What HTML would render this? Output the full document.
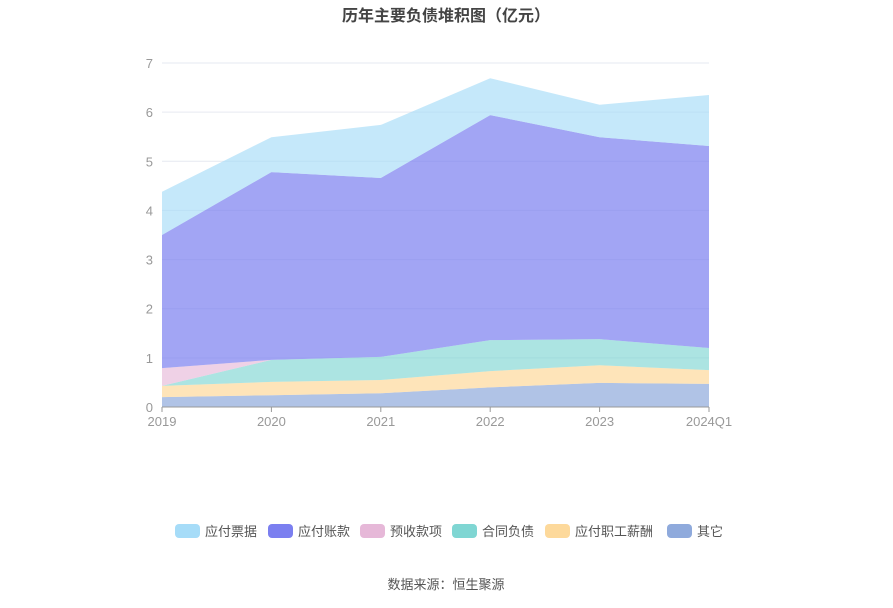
<!DOCTYPE html>
<html><head><meta charset="utf-8"><style>
body{margin:0;background:#fff;font-family:"Liberation Sans","Noto Sans CJK SC",sans-serif;}
svg text{font-family:"Liberation Sans","Noto Sans CJK SC",sans-serif;}
</style></head><body>
<svg id="c" width="893" height="603">
<text x="446" y="21" text-anchor="middle" font-size="16" font-weight="bold" fill="#444">历年主要负债堆积图（亿元）</text>
<g id="grid"></g><g id="areas"></g><g id="axes"></g><g id="legend"></g>
<text x="446" y="589" text-anchor="middle" font-size="13" fill="#555">数据来源：恒生聚源</text>
</svg>
<script>
const categories=["2019","2020","2021","2022","2023","2024Q1"];
const seriesNames=["其它","应付职工薪酬","合同负债","预收款项","应付账款","应付票据"];
const other=[0.2,0.24,0.28,0.4,0.49,0.47];
const payroll=[0.23,0.27,0.27,0.33,0.36,0.28];
const contract=[0,0.45,0.47,0.63,0.53,0.45];
const advance=[0.36,0,0,0,0,0];
const payables=[2.71,3.82,3.64,4.58,4.11,4.11];
const notes=[0.88,0.71,1.08,0.75,0.66,1.04];
const yTicks=[0,1,2,3,4,5,6,7];
const NS="http://www.w3.org/2000/svg";
const x=i=>162+i*(709-162)/(categories.length-1);
const y=v=>407-v*(407-63)/7;
function mk(t,a,p){const e=document.createElementNS(NS,t);for(const k in a)e.setAttribute(k,a[k]);p.appendChild(e);return e;}
const grid=document.getElementById('grid'),axes=document.getElementById('axes'),areas=document.getElementById('areas'),legend=document.getElementById('legend');
yTicks.forEach(t=>{
 if(t>0){const l=mk('line',{x1:162,x2:709,y1:y(t),y2:y(t),stroke:'#e6e9f0'},grid);
 
 }
 const tx=mk('text',{x:153,y:y(t)+5,'text-anchor':'end','font-size':13,fill:'#999'},axes);tx.textContent=t;
 
 
});
const al=mk('line',{x1:162,x2:709,y1:407,y2:407,stroke:'#999'},axes);


categories.forEach((c,i)=>{
 mk('line',{x1:x(i),x2:x(i),y1:407,y2:412,stroke:'#999'},axes);
 const t=mk('text',{x:x(i),y:426,'text-anchor':'middle','font-size':13,fill:'#999'},axes);t.textContent=c;
 
 
});
const data=[other,payroll,contract,advance,payables,notes];
const fills=["#8faadc","#fdd99b","#7fd6d3","#e6b8d8","#7b7ff0","#a6dcf8"];
const alpha=[0.7,0.7,0.65,0.65,0.7,0.65];
const names=["area-other","area-payroll","area-contract-liabilities","area-advance-receipts","area-accounts-payable","area-notes-payable"];
let base=categories.map(()=>0);
data.forEach((s,k)=>{
 const top=base.map((b,i)=>b+s[i]);
 let d='M'+top.map((v,i)=>x(i)+','+y(v)).join(' L');
 for(let i=base.length-1;i>=0;i--)d+=' L'+x(i)+','+y(base[i]);
 const p=mk('path',{d:d+'Z',fill:fills[k],'fill-opacity':alpha[k]},areas);
 
 
 base=top;
});
const legOrder=[5,4,3,2,1,0];const legX=[175,268,360,452,545,667];
legOrder.forEach((k,j)=>{
 const g=mk('g',{},legend);
 
 
 mk('rect',{x:legX[j],y:524,width:25,height:14,rx:4,fill:fills[k]},g);
 const t=mk('text',{x:legX[j]+30,y:536,'font-size':13,fill:'#555'},g);t.textContent=seriesNames[k];
});
</script>
</body></html>
